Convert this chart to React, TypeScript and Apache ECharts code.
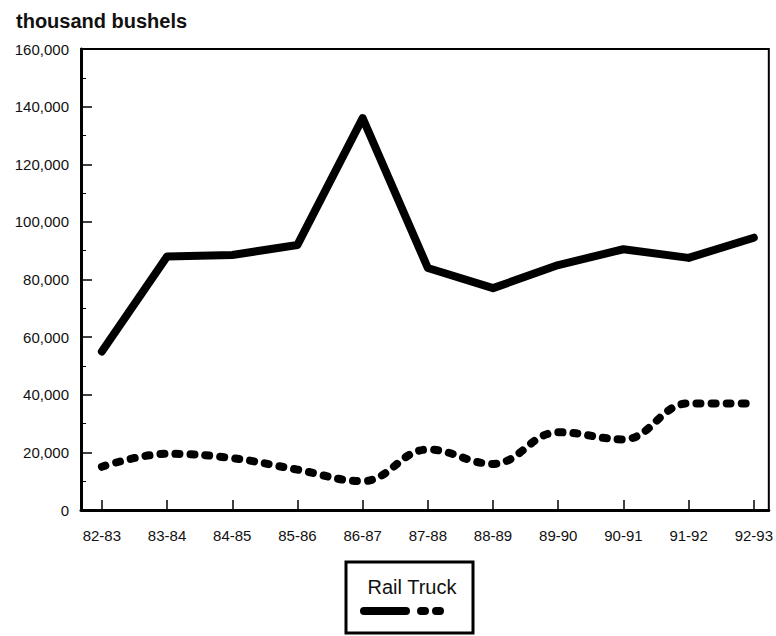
import React, { useEffect, useRef } from "react";
import * as echarts from "echarts";

const categories = ["82-83", "83-84", "84-85", "85-86", "86-87", "87-88", "88-89", "89-90", "90-91", "91-92", "92-93"];
const railValues = [55000, 88000, 88500, 92000, 136000, 84000, 77000, 85000, 90500, 87500, 94500];
const truckValues = [15000, 19500, 18000, 14000, 10000, 21000, 16000, 27000, 24500, 37000, 37000];
const yTicks = { min: 0, max: 160000, interval: 20000 };
const seriesNames = ["Rail", "Truck"];

const FONT = "'Liberation Sans', Arial, Helvetica, sans-serif";

export default function App() {
  const ref = useRef<HTMLDivElement | null>(null);
  useEffect(() => {
    if (!ref.current) return;
    const chart = echarts.init(ref.current, null, { renderer: "svg" });
    const toPoints = (arr: number[]) => arr.map((v, i) => [i, v]);
    chart.setOption({
      animation: false,
      backgroundColor: "#fff",
      textStyle: { fontFamily: FONT },
      title: {
        text: "thousand bushels",
        left: 11,
        top: 6,
        textStyle: { fontFamily: FONT, fontSize: 20, fontWeight: "bold", color: "#111" },
      },
      grid: {
        left: 81,
        top: 49,
        right: 3,
        bottom: 126,
        show: true,
        borderColor: "#000",
        borderWidth: 2,
        backgroundColor: "transparent",
      },
      xAxis: {
        type: "value",
        min: -0.32,
        max: 10.23,
        splitNumber: 10,
        splitLine: { show: false },
        axisLine: { show: true, onZero: false, lineStyle: { color: "#000", width: 3 } },
        axisTick: { show: true, inside: true, length: 10, lineStyle: { color: "#000", width: 1.5 } },
        axisLabel: {
          showMinLabel: false,
          showMaxLabel: false,
          margin: 18,
          fontSize: 15,
          color: "#111",
          fontFamily: FONT,
          formatter: (v: number) => (Number.isInteger(v) && categories[v] ? categories[v] : ""),
        },
      },
      yAxis: {
        type: "value",
        min: yTicks.min,
        max: yTicks.max,
        interval: yTicks.interval,
        splitLine: { show: false },
        axisLine: { show: true, onZero: false, lineStyle: { color: "#000", width: 3 } },
        axisTick: { show: true, inside: true, length: 11, lineStyle: { color: "#000", width: 1.5 } },
        minorTick: { show: true, splitNumber: 2, length: 5, lineStyle: { color: "#000", width: 1 } },
        minorSplitLine: { show: false },
        axisLabel: {
          margin: 12,
          fontSize: 15,
          color: "#111",
          fontFamily: FONT,
          formatter: (v: number) => v.toLocaleString("en-US"),
        },
      },
      series: [
        {
          name: seriesNames[0],
          type: "line",
          data: toPoints(railValues),
          showSymbol: false,
          symbol: "none",
          lineStyle: { color: "#000", width: 8, cap: "round", join: "round" },
        },
        {
          name: seriesNames[1],
          type: "line",
          data: toPoints(truckValues),
          showSymbol: false,
          symbol: "none",
          smooth: 0.4,
          lineStyle: { color: "#000", width: 8, type: [4, 11], cap: "round", join: "round" },
        },
      ],
      graphic: [
        {
          type: "rect",
          shape: { x: 346, y: 562, width: 127, height: 71 },
          style: { fill: "none", stroke: "#000", lineWidth: 3 },
        },
        {
          type: "text",
          x: 412,
          y: 587,
          style: {
            text: seriesNames.join(" "),
            fontSize: 20,
            fontFamily: FONT,
            fill: "#111",
            align: "center",
            verticalAlign: "middle",
          },
        },
        {
          type: "line",
          shape: { x1: 364, y1: 611, x2: 406, y2: 611 },
          style: { stroke: "#000", lineWidth: 8, lineCap: "round" },
        },
        {
          type: "line",
          shape: { x1: 421, y1: 611, x2: 445, y2: 611 },
          style: { stroke: "#000", lineWidth: 8, lineCap: "round", lineDash: [4, 11] },
        },
      ],
    });
    return () => chart.dispose();
  }, []);
  return (
    <div
      ref={ref}
      style={{ position: "fixed", left: 0, top: 0, width: 776, height: 636, background: "#fff" }}
    />
  );
}
